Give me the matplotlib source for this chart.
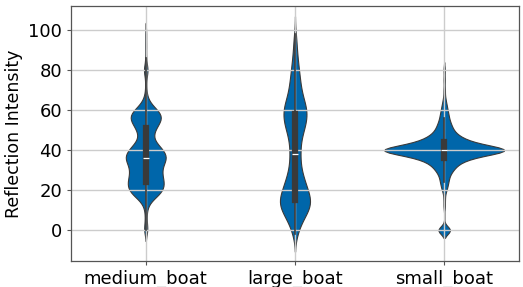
import numpy as np
import pandas as pd
import seaborn as sns
import matplotlib.pyplot as plt

# boat types on the x axis
categories = ["medium_boat", "large_boat", "small_boat"]

# reflection intensity levels and how many samples sit at each level
medium_levels = [0, 3, 6, 9, 12, 15, 18, 21, 24, 27, 30, 33, 36, 39, 42, 45, 48, 51,
                 54, 57, 60, 63, 66, 70, 75, 80, 86, 92, 98]
medium_counts = [3, 1, 1, 1, 2, 6, 16, 20, 20, 18, 17, 19, 24, 21, 15, 8, 8, 11,
                 16, 19, 13, 5, 2, 1, 1, 4, 1, 1, 1]

large_levels = [-2, 2, 6, 10, 14, 18, 22, 26, 30, 34, 38, 42, 46, 50, 54, 58, 62,
                66, 70, 74, 78, 82, 86, 90, 94, 98]
large_counts = [3, 5, 10, 16, 20, 16, 13, 10, 7, 6, 6, 6, 7, 10, 13, 14, 13,
                9, 7, 6, 5, 4, 3, 2, 2, 1]

small_levels = [0, 12, 16, 20, 22, 24, 26, 28, 30, 32, 34, 36, 38, 40, 42, 44, 46,
                48, 50, 52, 54, 56, 58, 60, 62, 64, 66, 70, 75, 80]
small_counts = [9, 1, 1, 2, 2, 3, 3, 4, 6, 8, 11, 18, 30, 56, 28, 18, 12,
                8, 6, 5, 4, 3, 3, 2, 2, 1, 1, 1, 1, 1]

frames = []
for name, lv, ct in [(categories[0], medium_levels, medium_counts),
                     (categories[1], large_levels, large_counts),
                     (categories[2], small_levels, small_counts)]:
    frames.append(pd.DataFrame({"type": name,
                                "Reflection Intensity": np.repeat(lv, ct).astype(float)}))
df = pd.concat(frames, ignore_index=True)

plt.rcParams["font.family"] = ["DejaVu Sans"]
fig = plt.figure(figsize=(5.23, 2.87), dpi=100)
ax = fig.add_axes([0.136, 0.091, 0.856, 0.888])

sns.violinplot(data=df, x="type", y="Reflection Intensity", order=categories,
               color="#0066AA", saturation=1, linecolor="#3a3a3a", linewidth=0.8,
               bw_adjust=0.5,
               inner_kws=dict(box_width=4.5, whis_width=1.2, marker="_"),
               ax=ax)

# grid over the violin bodies but under the inner boxes
ax.grid(True, color="#cccccc", linewidth=1.0)
ax.set_axisbelow("line")
ax.set_xlabel("")
ax.set_ylabel("Reflection Intensity", fontsize=12.5)
ax.tick_params(labelsize=13, length=3, color="#555555")
for s in ax.spines.values():
    s.set_color("#555555")
    s.set_linewidth(0.9)
ax.set_yticks([0, 20, 40, 60, 80, 100])
ax.set_ylim(-15.3, 111.8)

fig.savefig("out.png", dpi=100)
